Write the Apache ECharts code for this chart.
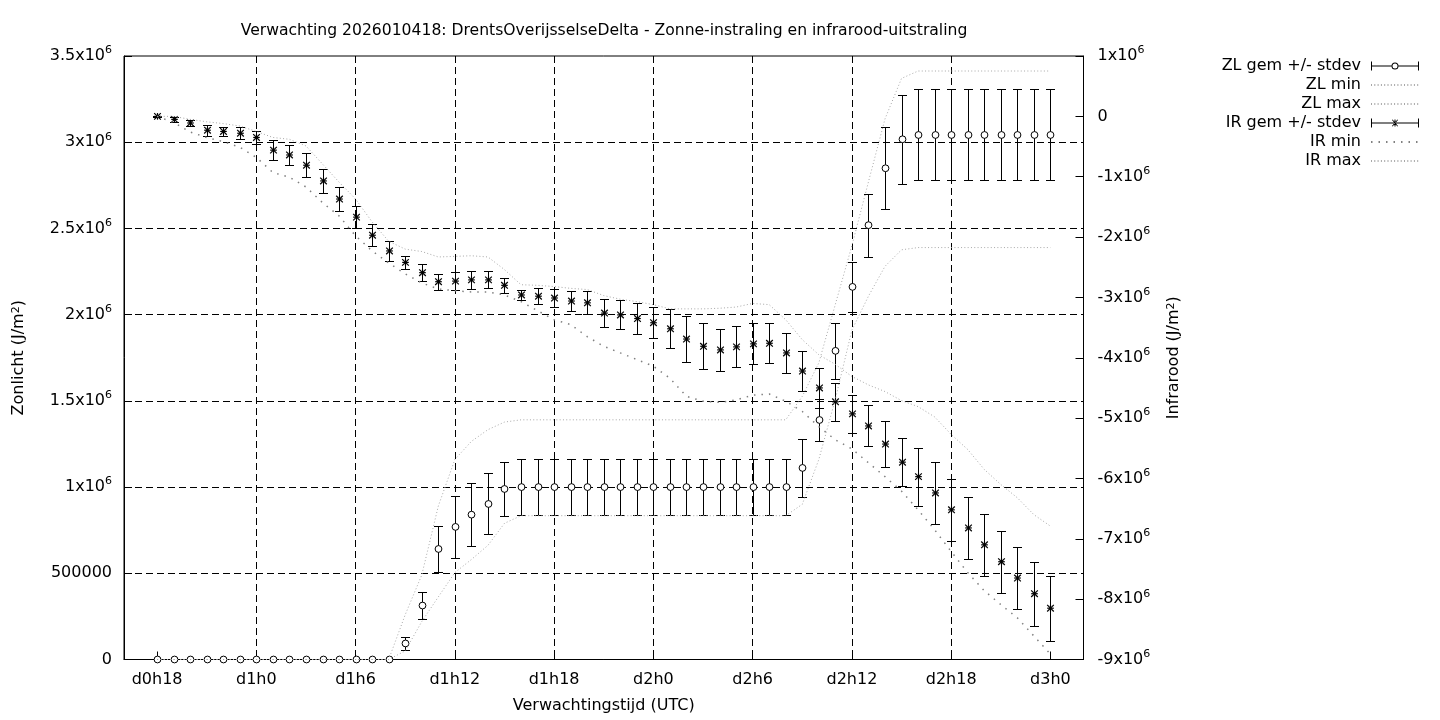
<!DOCTYPE html>
<html>
<head>
<meta charset="utf-8">
<title>Verwachting 2026010418</title>
<script src="https://cdn.jsdelivr.net/npm/echarts@6/dist/echarts.min.js"></script>
<style>
  html, body { margin: 0; padding: 0; background: #fff; }
  #chart { width: 1440px; height: 720px; }
</style>
</head>
<body>
<div id="chart"></div>
<script>
// tijd in uren sinds d0h0, waarden in 10^6 J/m2
const hours = [18, 19, 20, 21, 22, 23, 24, 25, 26, 27, 28, 29, 30, 31, 32, 33, 34, 35, 36, 37,
  38, 39, 40, 41, 42, 43, 44, 45, 46, 47, 48, 49, 50, 51, 52, 53, 54, 55, 56, 57,
  58, 59, 60, 61, 62, 63, 64, 65, 66, 67, 68, 69, 70, 71, 72]
const tickHours = [18, 24, 30, 36, 42, 48, 54, 60, 66, 72]

// zonlicht (linker as)
const zlMean = [0, 0, 0, 0, 0, 0, 0, 0, 0, 0, 0, 0, 0, 0, 0,
  0.093, 0.313, 0.641, 0.769, 0.840, 0.902, 0.989,
  1.0, 1.0, 1.0, 1.0, 1.0, 1.0, 1.0, 1.0, 1.0, 1.0, 1.0, 1.0, 1.0, 1.0, 1.0, 1.0, 1.0,
  1.111, 1.389, 1.790, 2.161, 2.519, 2.849, 3.017,
  3.042, 3.042, 3.042, 3.042, 3.042, 3.042, 3.042, 3.042, 3.042]
const zlSd = [0, 0, 0, 0, 0, 0, 0, 0, 0, 0, 0, 0, 0, 0, 0,
  0.036, 0.078, 0.131, 0.181, 0.184, 0.177, 0.159,
  0.160, 0.160, 0.160, 0.160, 0.160, 0.160, 0.160, 0.160, 0.160, 0.160, 0.160, 0.160, 0.160, 0.160, 0.160, 0.160, 0.160,
  0.168, 0.122, 0.164, 0.145, 0.183, 0.237, 0.257,
  0.264, 0.264, 0.264, 0.264, 0.264, 0.264, 0.264, 0.264, 0.264]
const zlMin = [0, 0, 0, 0, 0, 0, 0, 0, 0, 0, 0, 0, 0, 0, 0,
  0.05, 0.22, 0.363, 0.504, 0.58, 0.662, 0.79,
  0.834, 0.834, 0.834, 0.834, 0.834, 0.834, 0.834, 0.834, 0.834, 0.834, 0.834, 0.834, 0.834, 0.834, 0.834, 0.834, 0.834,
  0.90, 1.16, 1.51, 1.91, 2.107, 2.28, 2.376,
  2.389, 2.389, 2.389, 2.389, 2.389, 2.389, 2.389, 2.389, 2.389]
const zlMax = [0, 0, 0, 0, 0, 0, 0, 0, 0, 0, 0, 0, 0, 0, 0,
  0.26, 0.49, 0.89, 1.16, 1.265, 1.333, 1.377,
  1.39, 1.39, 1.39, 1.39, 1.39, 1.39, 1.39, 1.39, 1.39, 1.39, 1.39, 1.39, 1.39, 1.39, 1.39, 1.39, 1.39,
  1.526, 1.72, 2.06, 2.40, 2.77, 3.135, 3.37,
  3.413, 3.413, 3.413, 3.413, 3.413, 3.413, 3.413, 3.413, 3.413]

// infrarood (rechter as)
const irMean = [0.0, -0.05, -0.11, -0.23, -0.25, -0.28, -0.35, -0.56, -0.64, -0.81,
  -1.07, -1.37, -1.67, -1.97, -2.23, -2.42, -2.59, -2.74, -2.73, -2.71,
  -2.71, -2.80, -2.96, -2.98, -3.01, -3.06, -3.09, -3.26, -3.29, -3.35,
  -3.42, -3.52, -3.69, -3.81, -3.87, -3.82, -3.77, -3.76, -3.92, -4.22,
  -4.50, -4.73, -4.93, -5.13, -5.43, -5.73, -5.97, -6.24, -6.52, -6.82,
  -7.10, -7.38, -7.65, -7.91, -8.15]
const irSd = [0.01, 0.04, 0.05, 0.09, 0.08, 0.10, 0.10, 0.17, 0.17, 0.20,
  0.20, 0.20, 0.18, 0.18, 0.17, 0.11, 0.14, 0.13, 0.15, 0.15,
  0.14, 0.12, 0.09, 0.13, 0.15, 0.16, 0.19, 0.23, 0.24, 0.26,
  0.26, 0.32, 0.38, 0.38, 0.35, 0.34, 0.34, 0.33, 0.33, 0.33,
  0.33, 0.31, 0.31, 0.34, 0.38, 0.40, 0.48, 0.51, 0.51, 0.51,
  0.51, 0.51, 0.52, 0.53, 0.54]
const irMin = [0.0, -0.10, -0.26, -0.35, -0.42, -0.51, -0.68, -0.93, -1.01, -1.17,
  -1.43, -1.65, -1.98, -2.23, -2.43, -2.61, -2.76, -2.86, -2.89, -2.91,
  -2.91, -2.96, -3.07, -3.22, -3.37, -3.45, -3.65, -3.81, -3.92, -4.03,
  -4.14, -4.34, -4.64, -4.72, -4.74, -4.70, -4.62, -4.60, -4.72, -4.89,
  -5.14, -5.36, -5.51, -5.74, -5.97, -6.21, -6.52, -6.85, -7.21, -7.56,
  -7.86, -8.09, -8.31, -8.61, -8.91]
const irMax = [0.0, 0.0, -0.05, -0.09, -0.12, -0.16, -0.25, -0.35, -0.38, -0.49,
  -0.79, -1.09, -1.37, -1.75, -2.07, -2.20, -2.24, -2.33, -2.32, -2.31,
  -2.33, -2.54, -2.79, -2.80, -2.82, -2.85, -2.87, -2.97, -3.03, -3.07,
  -3.12, -3.19, -3.19, -3.19, -3.18, -3.16, -3.10, -3.12, -3.37, -3.70,
  -3.95, -4.11, -4.31, -4.45, -4.56, -4.71, -4.81, -4.98, -5.27, -5.52,
  -5.85, -6.10, -6.32, -6.60, -6.79]

const FONT = 'DejaVu Sans'
const FS = 16

const chart = echarts.init(document.getElementById('chart'), null, { renderer: 'canvas' })

// labels als 3.5x10^6
const supRich = {
  a: { fontFamily: FONT, fontSize: FS, color: '#000', lineHeight: 22 },
  s: { fontFamily: FONT, fontSize: 11, color: '#000', verticalAlign: 'top', lineHeight: 11 }
}
const sciLabel = (v) => {
  if (v === 0) return '0'
  if (Math.abs(v - 0.5) < 1e-9) return '500000'
  return '{a|' + (+v.toFixed(2)) + 'x10}{s|6}'
}
const hourLabel = (v) => 'd' + Math.floor(v / 24) + 'h' + (v % 24)

// foutbalk + markering (cirkel of ster)
const errorBarItem = (marker) => (params, api) => {
  const x = api.value(0)
  const mean = api.value(1)
  const sd = api.value(2)
  const c = api.coord([x, mean])
  const hi = api.coord([x, mean + sd])
  const lo = api.coord([x, mean - sd])
  const px = Math.round(c[0]) + 0.5
  const yHi = Math.round(hi[1]) + 0.5
  const yLo = Math.round(lo[1]) + 0.5
  const cap = 4.5
  const bar = { stroke: '#000', lineWidth: 1 }
  const children = []
  if (sd > 0) {
    children.push(
      { type: 'line', shape: { x1: px, y1: yHi, x2: px, y2: yLo }, style: bar },
      { type: 'line', shape: { x1: px - cap, y1: yHi, x2: px + cap, y2: yHi }, style: bar },
      { type: 'line', shape: { x1: px - cap, y1: yLo, x2: px + cap, y2: yLo }, style: bar }
    )
  }
  const cy = c[1]
  if (marker === 'circle') {
    children.push({ type: 'circle', shape: { cx: px, cy: cy, r: 3.4 }, style: { fill: '#fff', stroke: '#000', lineWidth: 1 } })
  } else {
    const s = 3.3
    const st = { stroke: '#000', lineWidth: 1.2 }
    children.push(
      { type: 'line', shape: { x1: px - s, y1: cy, x2: px + s, y2: cy }, style: st },
      { type: 'line', shape: { x1: px, y1: cy - s, x2: px, y2: cy + s }, style: st },
      { type: 'line', shape: { x1: px - s, y1: cy - s, x2: px + s, y2: cy + s }, style: st },
      { type: 'line', shape: { x1: px - s, y1: cy + s, x2: px + s, y2: cy - s }, style: st }
    )
  }
  return { type: 'group', children: children }
}

// legenda-iconen |--o--| en |--*--|
const ZL_ICON = 'path://M0 0h1v9h-1z M47 0h1v9h-1z M1 4h19.5v1h-19.5z M27.5 4h19.5v1h-19.5z ' +
  'M20.5 4.5a3.5 3.5 0 1 0 7 0a3.5 3.5 0 1 0 -7 0z M21.5 4.5a2.5 2.5 0 1 1 5 0a2.5 2.5 0 1 1 -5 0z'
const IR_ICON = 'path://M0 0h1v9h-1z M47 0h1v9h-1z M1 4h46v1h-46z M23.5 1h1v7h-1z ' +
  'M21 1.6L21.6 1L27 7.4L26.4 8z M27 1.6L26.4 1L21 7.4L21.6 8z'

const fineDots = { color: '#a8a8a8', width: 1, type: [1, 2.3] }
const sparseDots = { color: '#808080', width: 1.5, type: [1.5, 6] }
const noSymbol = { color: 'rgba(0,0,0,0)', opacity: 0 }

const zip = (ys) => hours.map((h, i) => [h, ys[i]])

const option = {
  animation: false,
  backgroundColor: '#fff',
  textStyle: { fontFamily: FONT, fontSize: FS, color: '#000' },
  title: {
    text: 'Verwachting 2026010418: DrentsOverijsselseDelta - Zonne-instraling en infrarood-uitstraling',
    left: 599,
    top: 18,
    textAlign: 'center',
    textStyle: { fontFamily: FONT, fontSize: 15.6, fontWeight: 'normal', color: '#000' }
  },
  legend: {
    orient: 'vertical',
    right: 15,
    top: 53,
    align: 'right',
    itemWidth: 48,
    itemHeight: 9,
    itemGap: 3,
    selectedMode: false,
    textStyle: { fontFamily: FONT, fontSize: FS, color: '#000', padding: [0, 5, 0, 0] },
    data: [
      { name: 'ZL gem +/- stdev', icon: ZL_ICON },
      { name: 'ZL min', itemStyle: noSymbol },
      { name: 'ZL max', itemStyle: noSymbol },
      { name: 'IR gem +/- stdev', icon: IR_ICON },
      { name: 'IR min', itemStyle: noSymbol },
      { name: 'IR max', itemStyle: noSymbol }
    ]
  },
  grid: {
    left: 124,
    right: 356.5,
    top: 56,
    bottom: 60.5,
    show: true,
    borderColor: '#000',
    borderWidth: 1,
    backgroundColor: 'transparent'
  },
  xAxis: {
    type: 'value',
    min: 16,
    max: 74,
    name: 'Verwachtingstijd (UTC)',
    nameLocation: 'middle',
    nameGap: 38,
    nameTextStyle: { fontFamily: FONT, fontSize: FS, color: '#000' },
    axisLine: { onZero: false, lineStyle: { color: '#000', width: 1 } },
    axisTick: { inside: true, length: 8, customValues: tickHours, lineStyle: { color: '#000' } },
    axisLabel: { customValues: tickHours, formatter: hourLabel, margin: 12, color: '#000', fontFamily: FONT, fontSize: FS },
    splitLine: { show: true, showMinLine: false, showMaxLine: false, lineStyle: { color: '#000', width: 1, type: [7, 4] } }
  },
  yAxis: [
    {
      type: 'value',
      min: 0,
      max: 3.5,
      interval: 0.5,
      position: 'left',
      name: 'Zonlicht (J/m{s|2})',
      nameLocation: 'middle',
      nameRotate: 90,
      nameGap: 97,
      nameTextStyle: { fontFamily: FONT, fontSize: FS, color: '#000', rich: { s: { fontFamily: FONT, fontSize: 11, color: '#000', verticalAlign: 'top' } } },
      axisLine: { show: true, lineStyle: { color: '#000', width: 1 } },
      axisTick: { show: true, inside: true, length: 8, lineStyle: { color: '#000' } },
      axisLabel: { formatter: sciLabel, rich: supRich, margin: 12, color: '#000', fontFamily: FONT, fontSize: FS },
      splitLine: { show: true, showMinLine: false, showMaxLine: false, lineStyle: { color: '#000', width: 1, type: [7, 4] } }
    },
    {
      type: 'value',
      min: -9,
      max: 1,
      interval: 1,
      position: 'right',
      name: 'Infrarood (J/m{s|2})',
      nameLocation: 'middle',
      nameRotate: 90,
      nameGap: 82,
      nameTextStyle: { fontFamily: FONT, fontSize: FS, color: '#000', rich: { s: { fontFamily: FONT, fontSize: 11, color: '#000', verticalAlign: 'top' } } },
      axisLine: { show: true, lineStyle: { color: '#000', width: 1 } },
      axisTick: { show: true, inside: true, length: 8, lineStyle: { color: '#000' } },
      axisLabel: { formatter: sciLabel, rich: supRich, margin: 14, color: '#000', fontFamily: FONT, fontSize: FS },
      splitLine: { show: false }
    }
  ],
  series: [
    {
      name: 'ZL gem +/- stdev',
      type: 'custom',
      yAxisIndex: 0,
      itemStyle: { color: '#000' },
      renderItem: errorBarItem('circle'),
      encode: { x: 0, y: 1 },
      data: hours.map((h, i) => [h, zlMean[i], zlSd[i]])
    },
    {
      name: 'ZL min', type: 'line', yAxisIndex: 0, symbol: 'none', silent: true,
      lineStyle: fineDots, itemStyle: noSymbol, data: zip(zlMin)
    },
    {
      name: 'ZL max', type: 'line', yAxisIndex: 0, symbol: 'none', silent: true,
      lineStyle: fineDots, itemStyle: noSymbol, data: zip(zlMax)
    },
    {
      name: 'IR gem +/- stdev',
      type: 'custom',
      yAxisIndex: 1,
      itemStyle: { color: '#000' },
      renderItem: errorBarItem('star'),
      encode: { x: 0, y: 1 },
      data: hours.map((h, i) => [h, irMean[i], irSd[i]])
    },
    {
      name: 'IR min', type: 'line', yAxisIndex: 1, symbol: 'none', silent: true,
      lineStyle: sparseDots, itemStyle: noSymbol, data: zip(irMin)
    },
    {
      name: 'IR max', type: 'line', yAxisIndex: 1, symbol: 'none', silent: true,
      lineStyle: fineDots, itemStyle: noSymbol, data: zip(irMax)
    }
  ]
}

chart.setOption(option)
</script>
</body>
</html>
